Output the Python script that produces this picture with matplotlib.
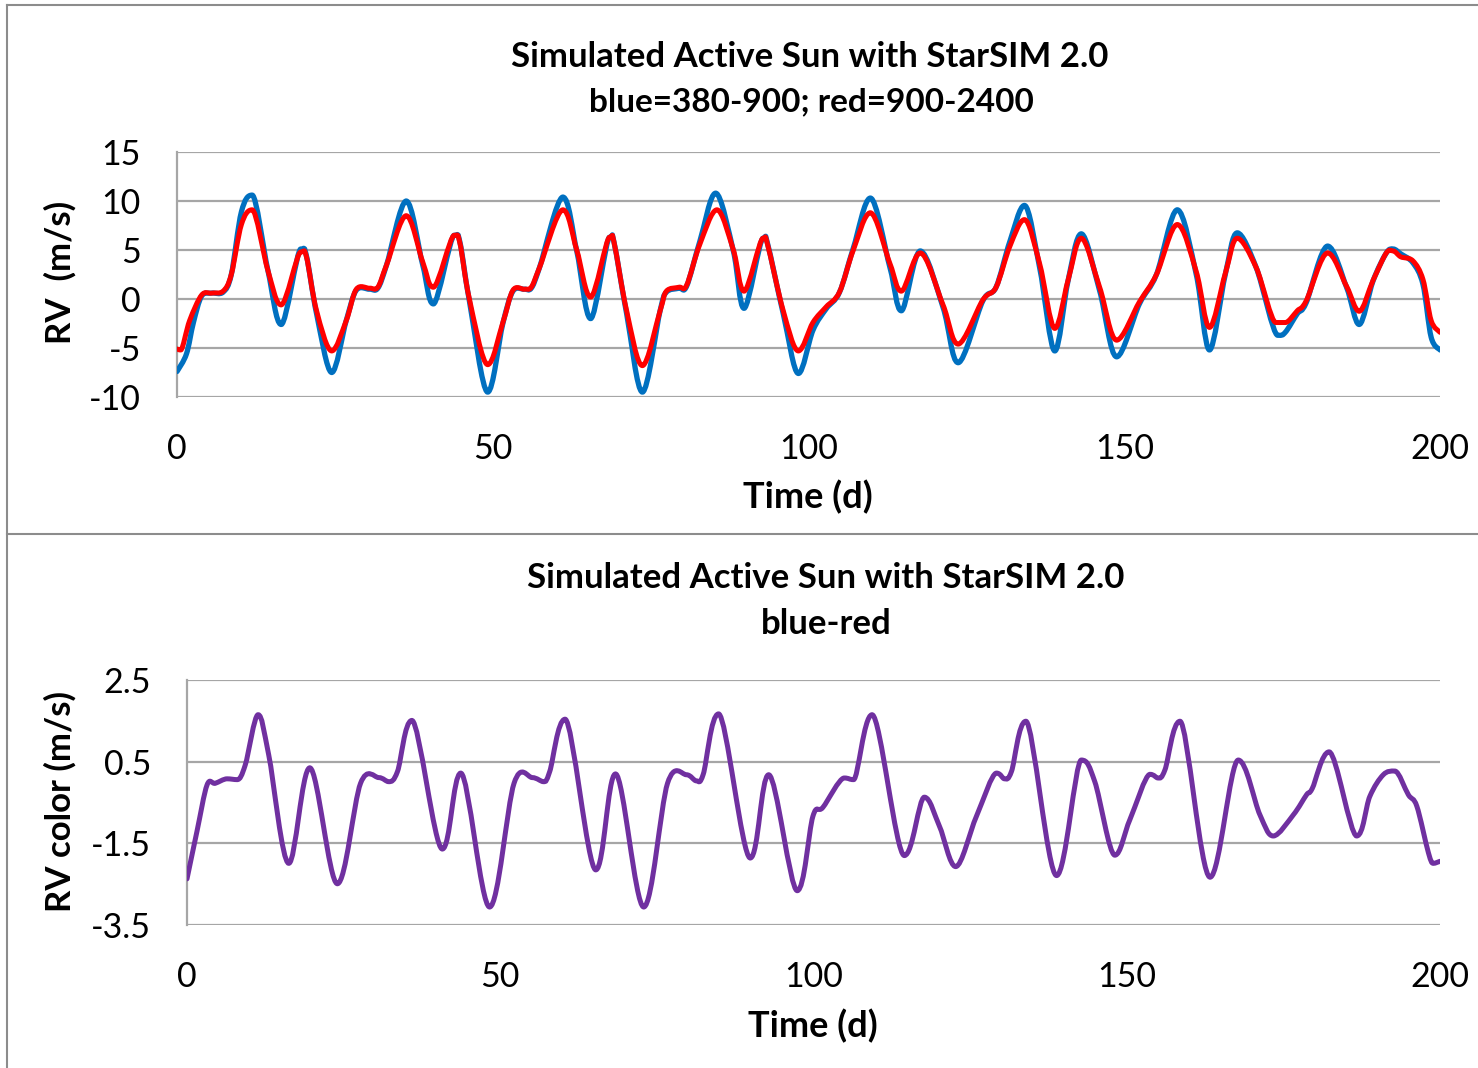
import numpy as np
import matplotlib
matplotlib.use("Agg")
import matplotlib.pyplot as plt
from matplotlib.path import Path
from matplotlib.patches import PathPatch
from matplotlib.lines import Line2D

# RV in the blue band (380-900 nm), days / m/s
t_blue = [0, 1.5, 2.6, 3.9, 5.5, 7.3, 8.6, 10.2, 11.9, 14.4, 16.5, 19.6, 20.5, 22.1,
          24.5, 26.8, 28.4, 30.5, 31.8, 33.2, 36.3, 38.9, 40.6, 43.9, 44.8, 46.3,
          49.2, 51.6, 53.2, 55.0, 56.1, 57.4, 61.1, 63.3, 65.5, 68.5, 69.2, 71.2,
          73.7, 76.5, 77.5, 79.5, 80.7, 82.8, 85.3, 88.1, 89.8, 92.8, 93.5, 96.0,
          98.4, 100.7, 102.8, 104.9, 107.1, 109.8, 112.9, 114.7, 117.7, 121.3,
          123.7, 127.6, 129.7, 131.9, 134.2, 136.6, 139.0, 141.1, 143.2, 146.1,
          148.8, 152.4, 155.1, 158.4, 161.4, 163.5, 166.0, 167.9, 170.9, 174.3,
          175.5, 177.4, 178.8, 182.2, 185.2, 187.2, 189.4, 191.5, 192.6, 193.8,
          195.7, 197.3, 198.6, 200]
rv_blue = [-7.4, -5.6, -2.4, 0.3, 0.6, 0.7, 2.5, 8.9, 10.6, 2.9, -2.6, 5.1, 4.4, -1.5,
           -7.5, -2.2, 0.9, 1.0, 1.1, 3.5, 10.0, 3.5, -0.5, 6.5, 5.8, -0.2,
           -9.5, -2.5, 0.8, 1.0, 1.1, 3.2, 10.4, 4.9, -2.0, 6.3, 5.8, -1.5,
           -9.5, -1.2, 0.7, 1.1, 1.3, 5.9, 10.8, 4.9, -0.95, 6.2, 5.7, -1.5,
           -7.6, -3.2, -1.0, 0.67, 5.2, 10.3, 3.2, -1.2, 4.9, -0.85,
           -6.5, -0.2, 1.2, 5.9, 9.55, 3.2, -5.3, 1.85, 6.65, 0.85,
           -5.9, -0.5, 2.5, 9.1, 2.5, -5.2, 2.5, 6.75, 3.2, -3.7,
           -3.4, -1.5, -0.4, 5.4, 1.2, -2.6, 1.85, 4.7, 5.1, 4.6,
           3.7, 1.5, -3.9, -5.2]

# RV in the red band (900-2400 nm)
t_red = [0, 0.6, 2.0, 3.9, 5.5, 7.3, 8.6, 10.2, 11.9, 14.4, 16.5, 19.6, 20.5, 22.1,
         24.5, 26.8, 28.4, 30.5, 31.8, 33.2, 36.3, 38.9, 40.6, 43.9, 44.8, 46.3,
         49.2, 51.6, 53.2, 55.0, 56.1, 57.4, 61.1, 63.3, 65.5, 68.5, 69.2, 71.2,
         73.7, 76.5, 77.5, 79.5, 80.7, 82.8, 85.5, 88.1, 89.8, 92.8, 93.5, 96.0,
         98.4, 100.7, 102.8, 104.9, 107.1, 109.8, 112.9, 114.7, 117.7, 121.3,
         123.7, 127.6, 129.7, 131.9, 134.2, 136.6, 139.0, 141.1, 143.2, 146.1,
         148.8, 152.4, 155.1, 158.4, 161.4, 163.5, 166.0, 167.9, 170.9, 174.0,
         175.5, 177.4, 178.8, 182.2, 185.2, 187.2, 189.4, 191.5, 192.6, 193.8,
         195.7, 197.3, 198.6, 200]
rv_red = [-5.1, -5.2, -2.2, 0.4, 0.6, 0.8, 2.5, 7.6, 9.1, 2.9, -0.6, 4.8, 4.3, -1.2,
          -5.3, -2.2, 1.0, 1.1, 1.2, 3.5, 8.5, 3.8, 1.2, 6.5, 5.7, 0.0,
          -6.7, -2.4, 0.9, 1.0, 1.2, 3.2, 9.1, 5.0, 0.2, 6.3, 5.8, -1.2,
          -6.8, -1.2, 0.8, 1.2, 1.4, 5.6, 9.1, 5.0, 0.8, 6.2, 5.6, -1.2,
          -5.3, -2.4, -0.8, 0.7, 5.0, 8.8, 3.6, 0.8, 4.7, -0.6,
          -4.6, -0.1, 1.2, 5.4, 8.1, 3.6, -3.0, 1.9, 6.2, 1.2,
          -4.2, -0.3, 2.5, 7.6, 2.8, -2.9, 2.6, 6.2, 3.2, -2.4,
          -2.4, -1.2, -0.2, 4.7, 1.3, -1.25, 1.9, 4.7, 4.9, 4.3,
          3.9, 2.0, -2.2, -3.4]

# RV colour (blue minus red)
t_color = [0, 1.6, 3.2, 4.5, 6.4, 8.0, 9.3, 11.35, 13.05, 16.25, 19.6, 24.0,
           27.7, 30.6, 32.2, 33.6, 35.9, 40.75, 43.7, 48.3, 52.2, 55.1, 56.9,
           57.9, 60.35, 65.25, 68.4, 72.9, 76.7, 79.7, 81.3, 82.4, 84.85, 89.9,
           92.85, 97.4, 99.9, 101.5, 104.9, 106.4, 109.35, 114.5, 117.7, 120.1,
           122.7, 126.0, 129.2, 130.5, 131.6, 133.9, 138.8, 142.75, 144.9, 148.1,
           150.5, 153.7, 155.0, 156.1, 158.5, 163.3, 167.8, 171.25, 173.4, 176.6,
           178.7, 179.6, 182.3, 186.7, 188.8, 190.95, 192.8, 194.95, 196.3,
           198.15, 198.95, 200]
rv_color = [-2.37, -1.2, -0.07, -0.03, 0.08, 0.06, 0.42, 1.65, 0.66, -1.99, 0.35, -2.49,
            -0.03, 0.11, 0.01, 0.26, 1.51, -1.64, 0.22, -3.06, -0.03, 0.11, 0.01,
            0.26, 1.54, -2.15, 0.2, -3.06, -0.03, 0.18, 0.03, 0.19, 1.67, -1.86,
            0.18, -2.66, -0.84, -0.62, 0.1, 0.06, 1.65, -1.8, -0.37, -1.08,
            -2.07, -0.84, 0.22, 0.08, 0.26, 1.49, -2.29, 0.54, 0.01, -1.79,
            -0.92, 0.19, 0.1, 0.3, 1.49, -2.33, 0.54, -0.8, -1.32, -0.8,
            -0.31, -0.16, 0.74, -1.32, -0.35, 0.18, 0.27, -0.31, -0.59,
            -1.73, -1.99, -1.94]

W, H = 1478, 1068
GRID = "#a6a6a6"
FONT = ["Lato", "DejaVu Sans"]

plt.rcParams["font.family"] = FONT


def smooth_line(ax, x, y, color, lw):
    # smoothed line through the points, cubic Bezier segments;
    # tangents are flattened at local peaks/troughs so nothing overshoots
    pts = np.column_stack([x, y]).astype(float)
    n = len(pts)
    tang = np.zeros_like(pts)
    for i in range(n):
        a = pts[max(i - 1, 0)]
        b = pts[min(i + 1, n - 1)]
        tang[i] = (b - a) / 2.0
        if 0 < i < n - 1:
            d1 = pts[i, 1] - a[1]
            d2 = b[1] - pts[i, 1]
            if d1 * d2 <= 0:
                tang[i, 1] = 0.0
    verts = [pts[0]]
    codes = [Path.MOVETO]
    for i in range(n - 1):
        verts += [pts[i] + tang[i] / 3.0, pts[i + 1] - tang[i + 1] / 3.0, pts[i + 1]]
        codes += [Path.CURVE4] * 3
    patch = PathPatch(Path(verts, codes), fill=False, edgecolor=color, lw=lw,
                      capstyle="round", joinstyle="round", transform=ax.transData,
                      zorder=3)
    ax.add_patch(patch)


def px_box(left, top, right, bottom):
    return [left / W, 1 - bottom / H, (right - left) / W, (bottom - top) / H]


def style_axes(ax, ylim, yticks, ylabels):
    ax.set_xlim(0, 200)
    ax.set_ylim(*ylim)
    ax.set_xticks([0, 50, 100, 150, 200])
    ax.set_yticks(yticks)
    ax.set_yticklabels(ylabels)
    ax.tick_params(length=0, labelsize=24.5, pad=26, colors="black")
    ax.yaxis.grid(True, color=GRID, lw=1.6)
    ax.set_axisbelow(True)
    for s in ["top", "right", "bottom"]:
        ax.spines[s].set_visible(False)
    ax.spines["left"].set_color(GRID)
    ax.spines["left"].set_linewidth(1.6)


fig = plt.figure(figsize=(W / 100, H / 100), dpi=100)

# top chart
ax1 = fig.add_axes(px_box(177, 152, 1440, 397))
style_axes(ax1, (-10, 15), [-10, -5, 0, 5, 10, 15],
           ["-10", "-5", "0", "5", "10", "15"])
smooth_line(ax1, t_blue, rv_blue, "#0070c0", 3.8)
smooth_line(ax1, t_red, rv_red, "#ff0000", 3.6)

# bottom chart
ax2 = fig.add_axes(px_box(187, 680, 1440, 925))
style_axes(ax2, (-3.5, 2.5), [-3.5, -1.5, 0.5, 2.5],
           ["-3.5", "-1.5", "0.5", "2.5"])
smooth_line(ax2, t_color, rv_color, "#7030a0", 3.6)


def ftext(x, y, s, size=25, **kw):
    fig.text(x / W, 1 - y / H, s, ha="center", va="center", fontsize=size,
             fontweight="bold", **kw)


ftext(810, 57, "Simulated Active Sun with StarSIM 2.0")
ftext(811, 102, "blue=380-900; red=900-2400", size=24)
ftext(808, 497, "Time (d)", size=26)
ftext(60, 272, "RV  (m/s)", size=25, rotation=90)

ftext(826, 578, "Simulated Active Sun with StarSIM 2.0")
ftext(826, 624, "blue-red")
ftext(813, 1026, "Time (d)", size=26)
ftext(60, 801, "RV color (m/s)", size=25, rotation=90)

# chart frames
for xs, ys in [([7, W], [5, 5]), ([7, 7], [5, H]), ([7, W], [534, 534])]:
    fig.add_artist(Line2D([x / W for x in xs], [1 - y / H for y in ys],
                          color="#8c8c8c", lw=1.5))

fig.savefig("out.png", dpi=100)
